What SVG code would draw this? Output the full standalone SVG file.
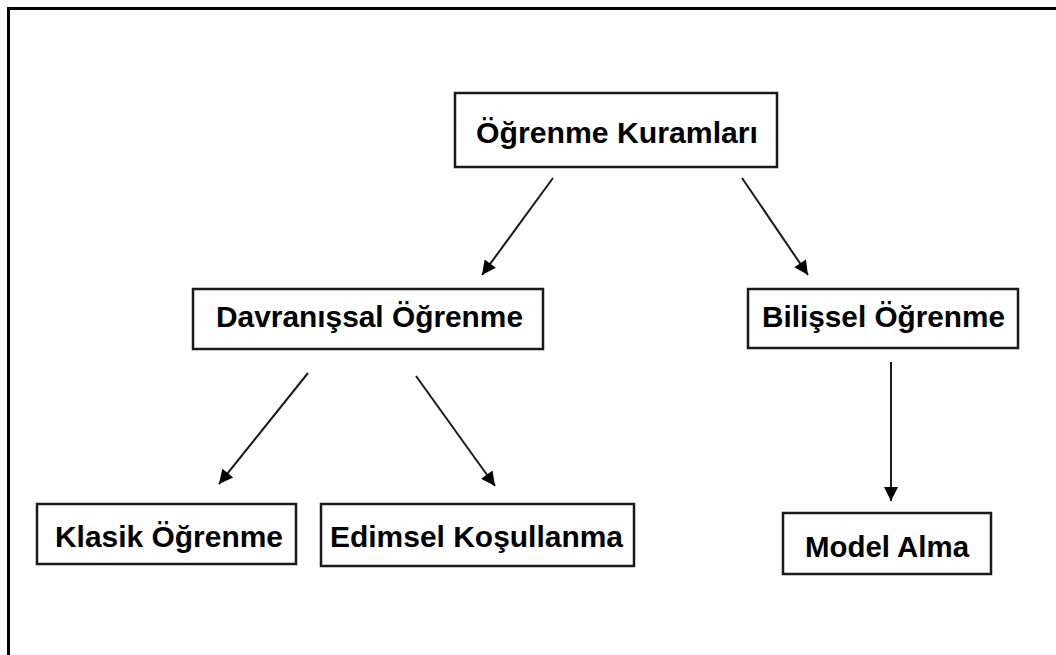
<svg xmlns="http://www.w3.org/2000/svg" width="1056" height="655" viewBox="0 0 1056 655">
  <style>
    .box { fill: #ffffff; stroke: #1a1a1a; stroke-width: 2.5; }
    .label { font-family: "Liberation Sans", Arial, sans-serif; font-weight: bold; font-size: 30px; fill: #000000; }
    .edge { stroke: #1a1a1a; stroke-width: 2; fill: none; marker-end: url(#arrow); }
  </style>
  <defs>
    <marker id="arrow" viewBox="0 0 10 10" refX="10" refY="5" markerUnits="userSpaceOnUse" markerWidth="17" markerHeight="14" orient="auto">
      <path d="M0,0 L10,5 L0,10 Z" fill="#000000"/>
    </marker>
  </defs>

  <rect x="0" y="0" width="1056" height="655" fill="#ffffff"/>
  <!-- outer frame (top and left edges) -->
  <path d="M8.5,655 V8.5 H1056" fill="none" stroke="#000000" stroke-width="3"/>

  <g id="connectors">
    <line class="edge" x1="553" y1="178" x2="482" y2="275"/>
    <line class="edge" x1="742" y1="178" x2="808" y2="275"/>
    <line class="edge" x1="308" y1="373" x2="219" y2="484"/>
    <line class="edge" x1="416" y1="376" x2="495" y2="486"/>
    <line class="edge" x1="891" y1="362" x2="891" y2="501"/>
  </g>

  <g id="ogrenme-kuramlari">
    <rect class="box" x="455" y="93" width="322" height="74"/>
    <text class="label" x="476" y="143" textLength="282" lengthAdjust="spacingAndGlyphs">Öğrenme Kuramları</text>
  </g>

  <g id="davranissal-ogrenme">
    <rect class="box" x="193" y="289" width="350" height="60"/>
    <text class="label" x="216" y="327" textLength="307" lengthAdjust="spacingAndGlyphs">Davranışsal Öğrenme</text>
  </g>

  <g id="bilissel-ogrenme">
    <rect class="box" x="748" y="289" width="270" height="59"/>
    <text class="label" x="762" y="327" textLength="243" lengthAdjust="spacingAndGlyphs">Bilişsel Öğrenme</text>
  </g>

  <g id="klasik-ogrenme">
    <rect class="box" x="37" y="504" width="259" height="60"/>
    <text class="label" x="55" y="547" textLength="228" lengthAdjust="spacingAndGlyphs">Klasik Öğrenme</text>
  </g>

  <g id="edimsel-kosullanma">
    <rect class="box" x="321" y="504" width="313" height="62"/>
    <text class="label" x="330" y="547" textLength="293" lengthAdjust="spacingAndGlyphs">Edimsel Koşullanma</text>
  </g>

  <g id="model-alma">
    <rect class="box" x="783" y="513" width="208" height="61"/>
    <text class="label" x="805" y="557" textLength="164" lengthAdjust="spacingAndGlyphs">Model Alma</text>
  </g>
</svg>
